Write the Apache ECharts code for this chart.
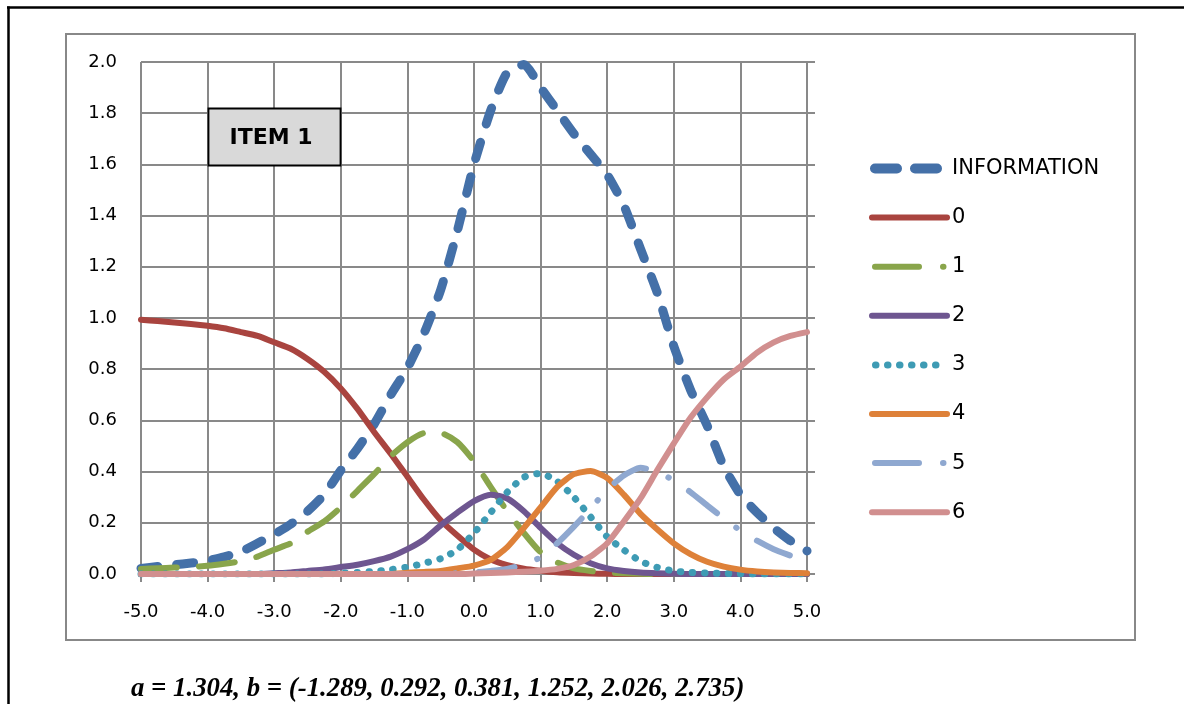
<!DOCTYPE html>
<html>
<head>
<meta charset="utf-8">
<script src="https://cdn.jsdelivr.net/npm/echarts@6/dist/echarts.min.js"></script>
<style>
  html, body { margin: 0; padding: 0; background: #ffffff; }
  #chart { width: 1184px; height: 704px; }
</style>
</head>
<body>
<div id="chart"></div>
<script>
// ---- data ----
const theta = [-5, -4.75, -4.5, -4.25, -4, -3.75, -3.5, -3.25, -3, -2.75, -2.5, -2.25, -2, -1.75, -1.5, -1.25, -1, -0.75, -0.5, -0.25, 0, 0.25, 0.5, 0.75, 1, 1.25, 1.5, 1.75, 2, 2.25, 2.5, 2.75, 3, 3.25, 3.5, 3.75, 4, 4.25, 4.5, 4.75, 5];

const information = [0.022, 0.029, 0.036, 0.043, 0.052, 0.067, 0.087, 0.12, 0.155, 0.195, 0.245, 0.31, 0.405, 0.49, 0.585, 0.70, 0.805, 0.94, 1.11, 1.34, 1.60, 1.81, 1.96, 1.99, 1.90, 1.81, 1.72, 1.64, 1.56, 1.44, 1.27, 1.10, 0.89, 0.72, 0.58, 0.42, 0.31, 0.24, 0.18, 0.13, 0.09];

const cat0 = [0.993, 0.988, 0.982, 0.977, 0.97, 0.96, 0.945, 0.93, 0.905, 0.88, 0.84, 0.79, 0.725, 0.645, 0.555, 0.47, 0.38, 0.29, 0.21, 0.15, 0.095, 0.057, 0.035, 0.021, 0.013, 0.007, 0.004, 0.002, 0.001, 0, 0, 0, 0, 0, 0, 0, 0, 0, 0, 0, 0];

const cat1 = [0.02, 0.022, 0.025, 0.028, 0.032, 0.04, 0.05, 0.068, 0.095, 0.12, 0.165, 0.205, 0.26, 0.325, 0.39, 0.46, 0.515, 0.55, 0.55, 0.515, 0.44, 0.34, 0.245, 0.16, 0.085, 0.045, 0.022, 0.012, 0.006, 0.003, 0.001, 0, 0, 0, 0, 0, 0, 0, 0, 0, 0];

const cat2 = [0, 0, 0, 0, 0, 0, 0, 0, 0.003, 0.006, 0.012, 0.018, 0.027, 0.036, 0.05, 0.068, 0.097, 0.135, 0.19, 0.24, 0.285, 0.31, 0.295, 0.245, 0.18, 0.12, 0.075, 0.042, 0.022, 0.012, 0.006, 0.003, 0.001, 0, 0, 0, 0, 0, 0, 0, 0];

const cat3 = [0, 0, 0, 0, 0, 0, 0, 0, 0, 0, 0, 0, 0.003, 0.006, 0.01, 0.017, 0.027, 0.042, 0.06, 0.095, 0.16, 0.24, 0.32, 0.378, 0.393, 0.362, 0.30, 0.223, 0.145, 0.094, 0.05, 0.026, 0.012, 0.006, 0.004, 0.002, 0.001, 0, 0, 0, 0];

const cat4 = [0, 0, 0, 0, 0, 0, 0, 0, 0, 0, 0, 0, 0, 0, 0, 0, 0.005, 0.008, 0.012, 0.022, 0.033, 0.055, 0.105, 0.18, 0.26, 0.34, 0.39, 0.402, 0.375, 0.31, 0.235, 0.175, 0.12, 0.078, 0.048, 0.029, 0.017, 0.01, 0.006, 0.004, 0.003];

const cat5 = [0, 0, 0, 0, 0, 0, 0, 0, 0, 0, 0, 0, 0, 0, 0, 0, 0, 0, 0, 0.003, 0.006, 0.012, 0.02, 0.038, 0.065, 0.12, 0.185, 0.255, 0.33, 0.385, 0.415, 0.40, 0.365, 0.32, 0.268, 0.217, 0.17, 0.13, 0.097, 0.072, 0.048];

const cat6 = [0, 0, 0, 0, 0, 0, 0, 0, 0, 0, 0, 0, 0, 0, 0, 0, 0, 0, 0, 0, 0.002, 0.004, 0.006, 0.009, 0.013, 0.02, 0.035, 0.068, 0.12, 0.205, 0.295, 0.405, 0.51, 0.61, 0.69, 0.76, 0.81, 0.865, 0.905, 0.93, 0.945];

const seriesNames = ['INFORMATION', '0', '1', '2', '3', '4', '5', '6'];
const itemLabel = 'ITEM 1';
const footerText = 'a = 1.304, b = (-1.289, 0.292, 0.381, 1.252, 2.026, 2.735)';

// ---- styling ----
const colors = ['#4470A8', '#A9443F', '#89A54B', '#6E5690', '#3E9BB4', '#DE8139', '#8FA8D0', '#D18F8F'];
const lineStyles = [
  { width: 9, type: [17, 19] },
  { width: 6, type: 'solid' },
  { width: 6, type: [36, 22] },
  { width: 6, type: 'solid' },
  { width: 7, type: [0.5, 11.5] },
  { width: 6, type: 'solid' },
  { width: 6, type: [36, 24, 0.5, 24] },
  { width: 6, type: 'solid' }
];
const legendLineStyles = [
  { width: 10, type: [22, 18], dashOffset: -3, cap: 'round' },
  { width: 6, type: 'solid', cap: 'round' },
  { width: 6, type: [44, 24, 0.5, 30], dashOffset: -3, cap: 'round' },
  { width: 6, type: 'solid', cap: 'round' },
  { width: 7, type: [0.5, 11.5], dashOffset: -3.5, cap: 'round' },
  { width: 6, type: 'solid', cap: 'round' },
  { width: 6, type: [44, 24, 0.5, 30], dashOffset: -3, cap: 'round' },
  { width: 6, type: 'solid', cap: 'round' }
];

const allValues = [information, cat0, cat1, cat2, cat3, cat4, cat5, cat6];

const gridColor = '#898989';

const series = allValues.map(function (vals, i) {
  return {
    name: seriesNames[i],
    type: 'line',
    data: theta.map(function (t, k) { return [t, vals[k]]; }),
    symbol: 'none',
    showSymbol: false,
    smooth: 0.2,
    lineStyle: {
      color: colors[i],
      width: lineStyles[i].width,
      type: lineStyles[i].type,
      cap: 'round',
      join: 'round'
    },
    itemStyle: { color: colors[i] },
    emphasis: { disabled: true },
    z: 2 + i * 0.01
  };
});

const chart = echarts.init(document.getElementById('chart'), null, { renderer: 'canvas' });

chart.setOption({
  backgroundColor: '#ffffff',
  animation: false,
  grid: { left: 141, right: 377, top: 62, bottom: 130, containLabel: false },
  xAxis: {
    type: 'value',
    min: -5, max: 5, interval: 1,
    axisLine: { show: true, onZero: false, lineStyle: { color: gridColor, width: 2 } },
    axisTick: { show: true, length: 8, inside: false, lineStyle: { color: gridColor, width: 2 } },
    splitLine: { show: true, lineStyle: { color: gridColor, width: 2 } },
    axisLabel: {
      margin: 29,
      color: '#000000',
      fontFamily: 'DejaVu Sans',
      fontSize: 18,
      formatter: function (v) { return v.toFixed(1); }
    }
  },
  yAxis: [{
    type: 'value',
    min: 0, max: 2, interval: 0.2,
    axisLine: { show: true, lineStyle: { color: gridColor, width: 2 } },
    axisTick: { show: true, length: 9, inside: false, lineStyle: { color: gridColor, width: 2 } },
    splitLine: { show: true, lineStyle: { color: gridColor, width: 2 } },
    axisLabel: {
      margin: 24,
      color: '#000000',
      fontFamily: 'DejaVu Sans',
      fontSize: 18,
      formatter: function (v) { return v.toFixed(1); }
    }
  }, {
    type: 'value',
    position: 'right',
    min: 0, max: 2, interval: 0.2,
    axisLine: { show: true, lineStyle: { color: gridColor, width: 2 } },
    axisTick: { show: true, length: 8, inside: false, lineStyle: { color: gridColor, width: 2 } },
    splitLine: { show: false },
    axisLabel: { show: false }
  }],
  legend: {
    orient: 'vertical',
    left: 867,
    top: 158,
    padding: 0,
    itemWidth: 75,
    itemHeight: 20,
    itemGap: 28.1,
    selectedMode: false,
    textStyle: { color: '#000000', fontFamily: 'DejaVu Sans', fontSize: 21, lineHeight: 20 },
    data: seriesNames.map(function (n, i) {
      return { name: n, lineStyle: legendLineStyles[i], itemStyle: { opacity: 0, borderWidth: 0 } };
    })
  },
  series: series,
  graphic: {
    elements: [
      { type: 'line', silent: true, z: 50,
        shape: { x1: 7, y1: 7.5, x2: 1184, y2: 7.5 },
        style: { stroke: '#000000', lineWidth: 2.5 } },
      { type: 'line', silent: true, z: 50,
        shape: { x1: 8.5, y1: 6.5, x2: 8.5, y2: 704 },
        style: { stroke: '#000000', lineWidth: 2.5 } },
      { type: 'rect', silent: true, z: 0,
        shape: { x: 66, y: 34, width: 1069, height: 606 },
        style: { fill: null, stroke: '#888888', lineWidth: 2 } },
      { type: 'rect', silent: true, z: 60,
        shape: { x: 208.5, y: 108.5, width: 132, height: 57 },
        style: { fill: '#D9D9D9', stroke: '#000000', lineWidth: 1.8 } },
      { type: 'text', silent: true, z: 61,
        style: { text: itemLabel, x: 271, y: 138, align: 'center', verticalAlign: 'middle',
                 fill: '#000000', font: 'bold 22px "DejaVu Sans"' } },
      { type: 'text', silent: true, z: 61,
        style: { text: footerText, x: 131, y: 689, align: 'left', verticalAlign: 'middle',
                 fill: '#000000', font: 'italic bold 26.8px "Liberation Serif"' } }
    ]
  }
});
</script>
</body>
</html>
